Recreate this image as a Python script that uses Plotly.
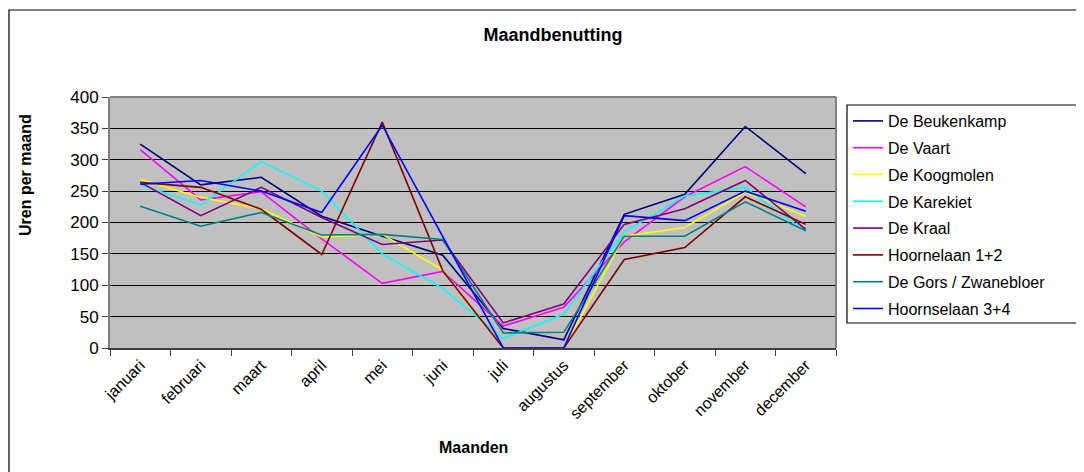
import plotly.graph_objects as go

months = ["januari", "februari", "maart", "april", "mei", "juni", "juli",
          "augustus", "september", "oktober", "november", "december"]

beukenkamp = [325, 260, 272, 210, 178, 148, 31, 13, 213, 245, 353, 278]
vaart = [316, 236, 249, 174, 103, 122, 35, 65, 169, 241, 289, 225]
koogmolen = [269, 240, 222, 177, 181, 124, 0, 0, 178, 192, 248, 210]
karekiet = [260, 228, 297, 250, 150, 95, 15, 54, 185, 242, 256, 185]
kraal = [264, 211, 256, 208, 165, 172, 40, 70, 197, 222, 267, 189]
hoornelaan12 = [264, 256, 221, 149, 360, 123, 0, 0, 141, 160, 241, 197]
gors = [226, 194, 216, 180, 181, 173, 24, 25, 178, 178, 233, 187]
hoornselaan34 = [261, 267, 250, 216, 355, 177, 0, 0, 211, 203, 250, 218]

series = [
    ("De Beukenkamp", beukenkamp, "#000080"),
    ("De Vaart", vaart, "#FF00FF"),
    ("De Koogmolen", koogmolen, "#FFFF00"),
    ("De Karekiet", karekiet, "#00FFFF"),
    ("De Kraal", kraal, "#800080"),
    ("Hoornelaan 1+2", hoornelaan12, "#800000"),
    ("De Gors / Zwanebloer", gors, "#008080"),
    ("Hoornselaan 3+4", hoornselaan34, "#0000FF"),
]

OFF = 8  # page body margin
WIN_W, WIN_H = 1084, 472
W, H = WIN_W - OFF, WIN_H - OFF
L, R, T, B = 110, 836, 97, 348  # plot area in window pixels
PW, PH = R - L, B - T


def px(x):
    return (x - L) / PW


def py(y):
    return (B - y) / PH


FONT = "Liberation Sans, Arial, sans-serif"

fig = go.Figure()
for i, (name, vals, col) in enumerate(series):
    fig.add_trace(go.Scatter(
        x=months, y=vals, mode="lines", name=name,
        line=dict(color=col, width=1.6),
        legendgroup=f"g{i}",
    ))

fig.update_layout(
    width=W, height=H,
    margin=dict(l=L - OFF, r=W - (R - OFF), t=T - OFF, b=H - (B - OFF)),
    paper_bgcolor="white",
    plot_bgcolor="#C0C0C0",
    font=dict(family=FONT, size=16, color="black"),
    title=dict(text="<b>Maandbenutting</b>", x=(553 - OFF) / W, xref="container",
               xanchor="center", y=1 - (35 - OFF) / H, yref="container",
               yanchor="middle", font=dict(size=18, family=FONT)),
    showlegend=True,
    legend=dict(
        x=px(848), y=py(104), xanchor="left", yanchor="top",
        bgcolor="rgba(0,0,0,0)", borderwidth=0,
        font=dict(size=16, family=FONT),
        tracegroupgap=3, itemwidth=30,
    ),
    xaxis=dict(
        type="category", range=[-0.5, 11.5], tickson="boundaries",
        ticks="outside", ticklen=6, tickcolor="#404040",
        showline=True, linecolor="#404040", linewidth=1.5, mirror=False,
        tickangle=-45, tickfont=dict(size=16), showgrid=False,
    ),
    yaxis=dict(
        range=[0, 400], dtick=50, ticks="outside", ticklen=6,
        tickcolor="#404040", showline=True, linecolor="#808080",
        linewidth=2, gridcolor="black", gridwidth=1, zeroline=False,
        tickfont=dict(size=17),
    ),
    shapes=[
        dict(type="line", xref="paper", yref="paper", x0=0, x1=1, y0=1, y1=1,
             line=dict(color="#808080", width=2)),
        dict(type="line", xref="paper", yref="paper", x0=1, x1=1, y0=0, y1=1,
             line=dict(color="#808080", width=2)),
        dict(type="rect", xref="paper", yref="paper",
             x0=px(9), x1=px(1100), y0=py(480), y1=py(10),
             line=dict(color="black", width=1.2), layer="below"),
        dict(type="rect", xref="paper", yref="paper",
             x0=px(847), x1=px(1100), y0=py(323), y1=py(105),
             line=dict(color="black", width=1.2)),
    ],
    annotations=[
        dict(text="<b>Uren per maand</b>", xref="paper", yref="paper",
             x=px(25), y=py(175), textangle=-90, showarrow=False,
             xanchor="center", yanchor="middle", font=dict(size=16)),
        dict(text="<b>Maanden</b>", xref="paper", yref="paper",
             x=px(473), y=py(447), showarrow=False,
             xanchor="center", yanchor="middle", font=dict(size=16)),
    ],
)

fig.write_html("out.html")
